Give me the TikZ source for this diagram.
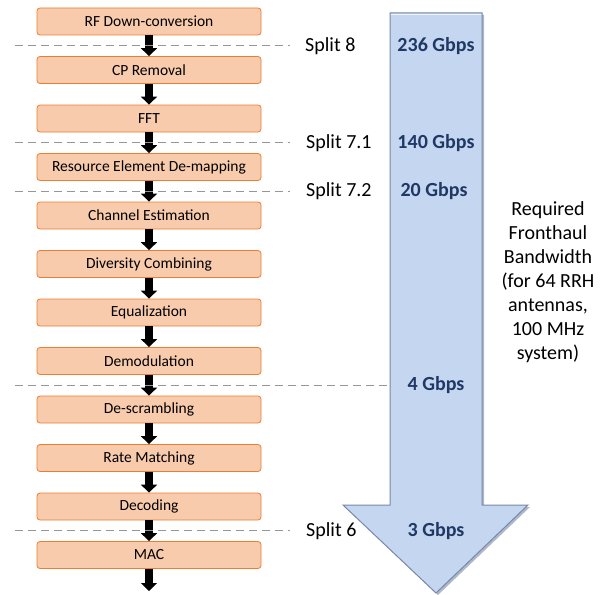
\documentclass[tikz,border=0pt]{standalone}
\usepackage{fontspec}
\setmainfont{Carlito}
\usepackage{tikz}
\usetikzlibrary{arrows.meta,calc}

\definecolor{boxfill}{RGB}{248,203,173}
\definecolor{boxline}{RGB}{237,125,49}
\definecolor{splitgray}{RGB}{150,150,150}
\definecolor{bwfill}{RGB}{197,214,241}
\definecolor{bwline}{RGB}{120,136,168}
\definecolor{bwtext}{RGB}{31,56,100}

\tikzset{
  stage/.style={draw=boxline,fill=boxfill,rounded corners=3pt,line width=0.8pt,
    minimum width=224pt,minimum height=27pt,inner sep=0pt,
    font=\fontsize{15.5}{18}\selectfont},
  flow/.style={-{Triangle[width=16pt,length=8pt]},line width=8pt,black},
  splitline/.style={dash pattern=on 8pt off 5pt,splitgray,line width=1.3pt},
  splitlabel/.style={anchor=west,inner sep=0pt,font=\fontsize{20}{24}\selectfont},
  rate/.style={inner sep=0pt,text=bwtext,font=\bfseries\fontsize{20}{24}\selectfont}
}

\begin{document}
\begin{tikzpicture}[x=1pt,y=-1pt]
  \useasboundingbox (0,0) rectangle (612,594);
  % processing chain
  \foreach \name/\txt [count=\i from 0] in {rf/RF Down-conversion,cp/CP Removal,fft/FFT,
      redm/Resource Element De-mapping,chest/Channel Estimation,divc/Diversity Combining,
      eq/Equalization,demod/Demodulation,descr/De-scrambling,ratem/Rate Matching,
      dec/Decoding,mac/MAC}
    \node[stage] (\name) at (149,21.5+48.5*\i) {\txt};
  \coordinate (out) at (149,591);
  \draw[flow] (rf) -- (cp);
  \draw[flow] (cp) -- (fft);
  \draw[flow] (fft) -- (redm);
  \draw[flow] (redm) -- (chest);
  \draw[flow] (chest) -- (divc);
  \draw[flow] (divc) -- (eq);
  \draw[flow] (eq) -- (demod);
  \draw[flow] (demod) -- (descr);
  \draw[flow] (descr) -- (ratem);
  \draw[flow] (ratem) -- (dec);
  \draw[flow] (dec) -- (mac);
  \draw[flow] (mac) -- (out);
  % split points
  \coordinate (s8) at ($(rf.south)!.5!(cp.north)$);
  \coordinate (s71) at ($(fft.south)!.5!(redm.north)$);
  \coordinate (s72) at ($(redm.south)!.5!(chest.north)$);
  \coordinate (s4) at ($(demod.south)!.5!(descr.north)$);
  \coordinate (s6) at ($(dec.south)!.5!(mac.north)$);
  % big bandwidth arrow
  \fill[bwline!60,shift={(2,2)}] (390,13) -- (482,13) -- (482,505) -- (528,505)
    -- (436,593) -- (343,505) -- (390,505) -- cycle;
  \draw[fill=bwfill,draw=bwline,line width=1pt,line join=miter]
    (390,13) -- (482,13) -- (482,505) -- (528,505)
    -- (436,593) -- (343,505) -- (390,505) -- cycle;
  \draw[white!70!bwfill,line width=1.5pt] (391,14.5) -- (481,14.5);
  \draw[splitline] (s8 -| 15,0) -- (s8 -| 290,0);
  \draw[splitline] (s71 -| 15,0) -- (s71 -| 290,0);
  \draw[splitline] (s72 -| 15,0) -- (s72 -| 290,0);
  \draw[splitline] (s4 -| 15,0) -- (s4 -| 389,0);
  \draw[splitline] (s6 -| 15,0) -- (s6 -| 290,0);
  \node[splitlabel] (l8) at (s8 -| 305,0) {Split 8};
  \node[splitlabel] (l71) at (s71 -| 306,0) {Split 7.1};
  \node[splitlabel] (l72) at (s72 -| 306,0) {Split 7.2};
  \node[splitlabel] (l6) at (s6 -| 306,0) {Split 6};
  % required rates
  \node[rate] (r8) at (s8 -| 436,0) {236 Gbps};
  \node[rate] (r71) at (s71 -| 436,0) {140 Gbps};
  \node[rate] (r72) at (s72 -| 434,0) {20 Gbps};
  \node[rate] (r4) at (s4 -| 436,0) {4 Gbps};
  \node[rate] (r6) at (s6 -| 436,0) {3 Gbps};
  \node[align=center,inner sep=0pt,font=\fontsize{20}{24}\selectfont] (req) at (548,282)
    {Required\\Fronthaul\\Bandwidth\\(for 64 RRH\\antennas,\\100 MHz\\system)};
\end{tikzpicture}
\end{document}
